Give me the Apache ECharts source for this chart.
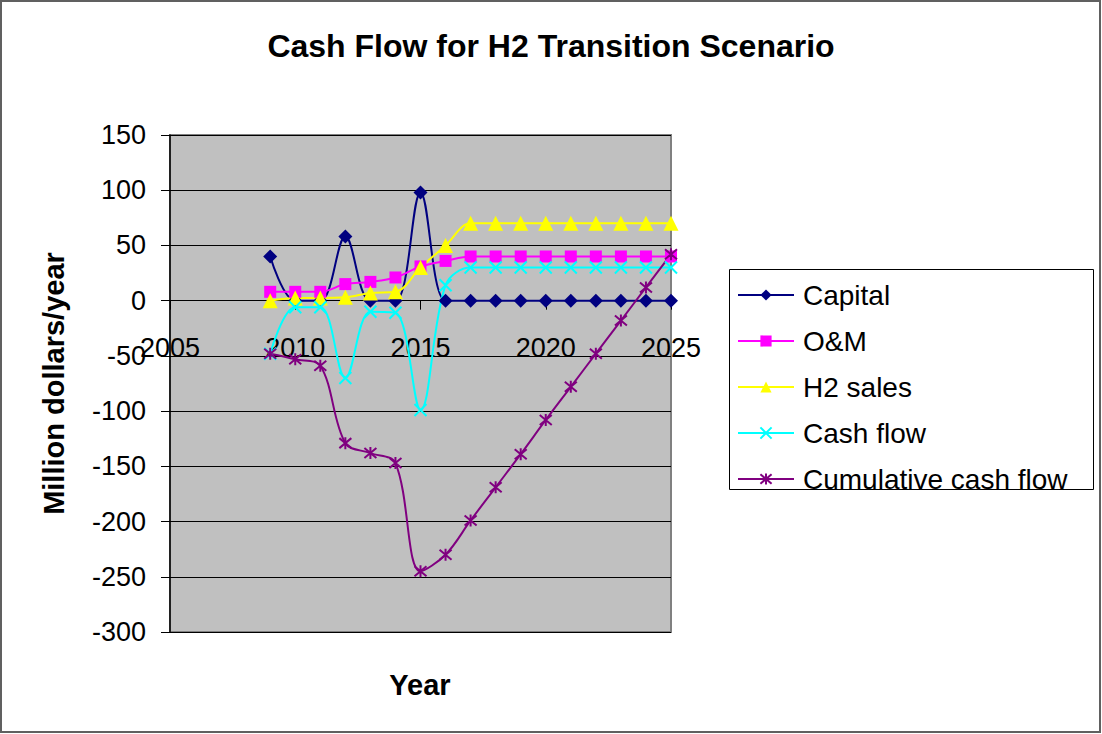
<!DOCTYPE html>
<html>
<head>
<meta charset="utf-8">
<title>Cash Flow for H2 Transition Scenario</title>
<script src="https://cdn.jsdelivr.net/npm/echarts@6/dist/echarts.min.js"></script>
<style>
  html, body { margin: 0; padding: 0; background: #fff; }
  #chart { width: 1102px; height: 734px; }
</style>
</head>
<body>
<div id="chart"></div>
<script>
// Years on the horizontal axis
const years = [2009, 2010, 2011, 2012, 2013, 2014, 2015, 2016, 2017, 2018, 2019, 2020, 2021, 2022, 2023, 2024, 2025];

// Annual flows, million dollars per year
const capital = [40, 0, 0, 58, 0, 0, 98, 0, 0, 0, 0, 0, 0, 0, 0, 0, 0];
const oAndM = [8, 8, 8, 15, 17, 21, 31, 36, 40, 40, 40, 40, 40, 40, 40, 40, 40];
const h2Sales = [0, 2.5, 2.5, 3, 7, 8, 30, 50, 70, 70, 70, 70, 70, 70, 70, 70, 70];
const cashFlow = [-48, -6, -6, -70, -10, -11, -99, 14, 30, 30, 30, 30, 30, 30, 30, 30, 30];
const cumulativeCashFlow = [-48, -53, -59, -129, -138, -147, -245, -230, -199, -169, -139, -108, -78, -48, -18, 12, 42];

// Axis ranges and tick spacing
const xRange = { min: 2005, max: 2025, interval: 5 };
const yRange = { min: -300, max: 150, interval: 50 };

const FONT = '"Liberation Sans", Arial, sans-serif';

// Plot box in pixels
const PLOT = { left: 170, top: 135, width: 501, height: 497 };
// Pixel distance from the plot bottom up to the y = 0 line, so the year axis sits on zero
const zeroLift = PLOT.height * (0 - yRange.min) / (yRange.max - yRange.min);

const pairs = (vals) => years.map((y, i) => [y, vals[i]]);

const crossPath = 'path://M0,0L10,10M10,0L0,10';
const starPath = 'path://M0,0L10,10M10,0L0,10M5,-1L5,11';

function lineSeries(name, vals, color, symbol, size, stroked) {
  return {
    name: name,
    type: 'line',
    data: pairs(vals),
    smooth: 0.35,
    symbol: symbol,
    symbolSize: size,
    lineStyle: { color: color, width: 2 },
    itemStyle: stroked
      ? { color: color, borderColor: color, borderWidth: 2 }
      : { color: color, borderWidth: 0 },
    emphasis: { disabled: true },
    animation: false
  };
}

const chart = echarts.init(document.getElementById('chart'), null, { renderer: 'svg' });

chart.setOption({
  backgroundColor: '#ffffff',
  animation: false,
  title: {
    text: 'Cash Flow for H2 Transition Scenario',
    left: 'center',
    top: 30,
    padding: 0,
    textStyle: { fontFamily: FONT, fontSize: 32, fontWeight: 'bold', color: '#000' }
  },
  grid: {
    left: PLOT.left,
    top: PLOT.top,
    width: PLOT.width,
    height: PLOT.height,
    show: true,
    backgroundColor: '#C0C0C0',
    borderColor: '#808080',
    borderWidth: 2
  },
  legend: {
    orient: 'vertical',
    left: 737,
    top: 281,
    padding: 0,
    itemWidth: 56,
    itemHeight: 14,
    itemGap: 18,
    textStyle: { fontFamily: FONT, fontSize: 28, color: '#000', lineHeight: 28, padding: [0, 0, 0, 4] },
    data: ['Capital', 'O&M', 'H2 sales', 'Cash flow', 'Cumulative cash flow']
  },
  xAxis: {
    type: 'value',
    min: xRange.min,
    max: xRange.max,
    interval: xRange.interval,
    position: 'bottom',
    offset: -zeroLift,
    axisLine: { show: true, onZero: false, lineStyle: { color: '#000', width: 1 } },
    axisTick: { show: true, inside: false, length: 9, lineStyle: { color: '#000' } },
    axisLabel: {
      margin: 34,
      fontFamily: FONT, fontSize: 27, color: '#000',
      showMinLabel: true, showMaxLabel: true,
      formatter: (v) => String(v)
    },
    splitLine: { show: false }
  },
  yAxis: {
    type: 'value',
    min: yRange.min,
    max: yRange.max,
    interval: yRange.interval,
    name: 'Million dollars/year',
    nameLocation: 'middle',
    nameRotate: 90,
    nameGap: 102,
    nameTextStyle: { fontFamily: FONT, fontSize: 29, fontWeight: 'bold', color: '#000' },
    axisLine: { show: true, onZero: false, lineStyle: { color: '#000', width: 1.5 } },
    axisTick: { show: true, inside: false, length: 9, lineStyle: { color: '#000' } },
    axisLabel: { margin: 24, fontFamily: FONT, fontSize: 27, color: '#000' },
    splitLine: { show: true, lineStyle: { color: '#000', width: 1 } }
  },
  graphic: [
    {
      type: 'rect',
      silent: true,
      z: -1,
      shape: { x: 1, y: 1, width: 1099, height: 731 },
      style: { fill: 'none', stroke: '#606060', lineWidth: 2 }
    },
    {
      type: 'rect',
      silent: true,
      z: -1,
      shape: { x: 729.5, y: 269.5, width: 364, height: 220 },
      style: { fill: 'none', stroke: '#000', lineWidth: 1 }
    },
    {
      type: 'text',
      silent: true,
      x: 420,
      y: 685,
      style: {
        text: 'Year',
        align: 'center',
        verticalAlign: 'middle',
        fontFamily: FONT, fontSize: 29, fontWeight: 'bold', fill: '#000'
      }
    }
  ],
  series: [
    lineSeries('Capital', capital, '#000080', 'diamond', 14, false),
    lineSeries('O&M', oAndM, '#FF00FF', 'rect', 12, false),
    lineSeries('H2 sales', h2Sales, '#FFFF00', 'triangle', 15, false),
    lineSeries('Cash flow', cashFlow, '#00FFFF', crossPath, 12, true),
    lineSeries('Cumulative cash flow', cumulativeCashFlow, '#800080', starPath, 12, true)
  ]
});
</script>
</body>
</html>
